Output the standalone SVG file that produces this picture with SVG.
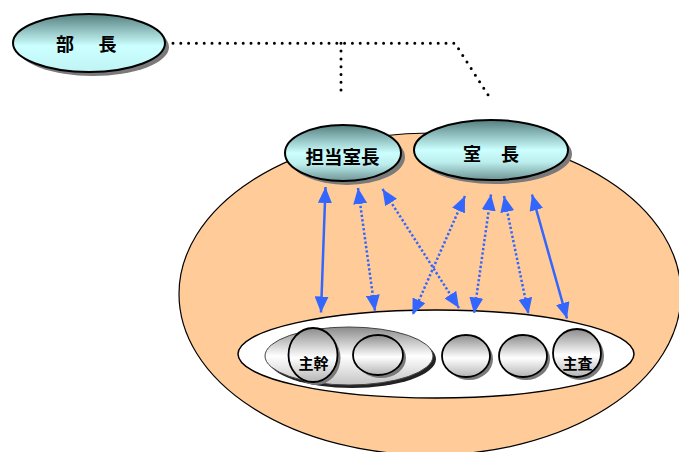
<svg xmlns="http://www.w3.org/2000/svg" width="679" height="452" viewBox="0 0 679 452">
<style>
.lbl{font-family:"Noto Sans CJK JP","Noto Sans CJK SC",sans-serif;font-weight:bold;fill:#000}
.teal{stroke:#000;stroke-width:2}
.shadow{fill:#7a7a7a;stroke:none}
.sub{fill:url(#gGray);stroke:#000;stroke-width:1.8}
.solid{stroke:#3366ff;stroke-width:2.5;fill:none;marker-start:url(#ah);marker-end:url(#ah)}
.dot{stroke:#3366ff;stroke-width:2.5;fill:none;stroke-dasharray:2.3 2.2;marker-start:url(#ah);marker-end:url(#ah)}
.chain{stroke:#000;stroke-width:3;fill:none;stroke-linecap:round;stroke-dasharray:0 7.8}
</style>
<defs>
<linearGradient id="gTealTop" x1="0" y1="0" x2="0" y2="1">
<stop offset="0" stop-color="#557f7f"/>
<stop offset="0.55" stop-color="#ccffff"/>
<stop offset="1" stop-color="#c0f4f4"/>
</linearGradient>
<linearGradient id="gTeal" x1="0" y1="0" x2="0" y2="1">
<stop offset="0" stop-color="#557f7f"/>
<stop offset="0.5" stop-color="#ccffff"/>
<stop offset="0.7" stop-color="#bdeeee"/>
<stop offset="1" stop-color="#6f9494"/>
</linearGradient>
<linearGradient id="gGray" x1="0" y1="0" x2="0" y2="1">
<stop offset="0" stop-color="#8c8c8c"/>
<stop offset="0.55" stop-color="#ffffff"/>
<stop offset="1" stop-color="#b4b4b4"/>
</linearGradient>
<linearGradient id="gGroup" x1="0" y1="0" x2="0" y2="1">
<stop offset="0" stop-color="#8a8a8a"/>
<stop offset="0.5" stop-color="#ffffff"/>
<stop offset="1" stop-color="#c4c4c4"/>
</linearGradient>
<marker id="ah" viewBox="0 0 16 14" refX="16" refY="7" markerWidth="16" markerHeight="14" markerUnits="userSpaceOnUse" orient="auto-start-reverse">
<path d="M0,0 L16,7 L0,14 Z" fill="#3366ff"/>
</marker>
</defs>

<g id="dept">
<ellipse id="bg" cx="430" cy="294" rx="251" ry="161" fill="#ffcc99" stroke="#000" stroke-width="1.2"/>
</g>

<g id="bucho">
<ellipse class="shadow" cx="93" cy="47" rx="76" ry="29"/>
<ellipse class="teal" cx="89" cy="43" rx="76" ry="29" fill="url(#gTealTop)"/>
<text class="lbl" x="56" y="50.5" font-size="18" letter-spacing="3.3">部　長</text>
</g>

<g id="tanto">
<ellipse class="shadow" cx="347" cy="157" rx="58" ry="28"/>
<ellipse class="teal" cx="343" cy="153" rx="58" ry="28" fill="url(#gTeal)"/>
<text class="lbl" x="342.5" y="164" font-size="18.5" text-anchor="middle">担当室長</text>
</g>

<g id="shitsucho">
<ellipse class="shadow" cx="495" cy="154" rx="77" ry="30"/>
<ellipse class="teal" cx="491" cy="150" rx="77" ry="30" fill="url(#gTeal)"/>
<text class="lbl" x="463" y="161" font-size="18" letter-spacing="1">室　長</text>
</g>

<g id="section">
<ellipse cx="436" cy="354" rx="198" ry="44" fill="#fff" stroke="#000" stroke-width="1.5"/>
</g>

<g id="group">
<ellipse cx="352" cy="359" rx="84" ry="29" fill="#222"/>
<ellipse cx="349" cy="356" rx="84" ry="29" fill="url(#gGroup)" stroke="#444" stroke-width="1"/>
</g>

<g id="kanbu">
<ellipse class="shadow" cx="316" cy="358" rx="24.5" ry="27"/>
<ellipse class="sub" cx="313" cy="355" rx="24.5" ry="27"/>
<text class="lbl" x="313.5" y="369" font-size="15" text-anchor="middle">主幹</text>
</g>

<g id="member1">
<ellipse class="shadow" cx="381" cy="358" rx="25" ry="20"/>
<ellipse class="sub" cx="378" cy="355" rx="25" ry="20"/>
</g>

<g id="member2">
<ellipse class="shadow" cx="469" cy="359" rx="24" ry="21"/>
<ellipse class="sub" cx="466" cy="356" rx="24" ry="21"/>
</g>

<g id="member3">
<ellipse class="shadow" cx="526" cy="359" rx="24" ry="21"/>
<ellipse class="sub" cx="523" cy="356" rx="24" ry="21"/>
</g>

<g id="shusa">
<ellipse class="shadow" cx="580" cy="356" rx="24" ry="24"/>
<ellipse class="sub" cx="577" cy="353" rx="24" ry="24"/>
<text class="lbl" x="577.5" y="369" font-size="15" text-anchor="middle">主査</text>
</g>

<g id="connectors">
<path class="chain" d="M173,43.3 L455,43.3 L490,98"/>
<path class="chain" d="M341,43.3 L341,91"/>
<line class="solid" x1="325.5" y1="187" x2="321" y2="312.5"/>
<line class="dot" x1="358" y1="188" x2="375" y2="311"/>
<line class="dot" x1="382.5" y1="189" x2="459" y2="308"/>
<line class="dot" x1="465" y1="196" x2="412.5" y2="315"/>
<line class="dot" x1="491" y1="194.5" x2="474" y2="313.5"/>
<line class="dot" x1="504" y1="196" x2="528.5" y2="314"/>
<line class="solid" x1="532" y1="194.5" x2="567" y2="318.5"/>
</g>
</svg>
